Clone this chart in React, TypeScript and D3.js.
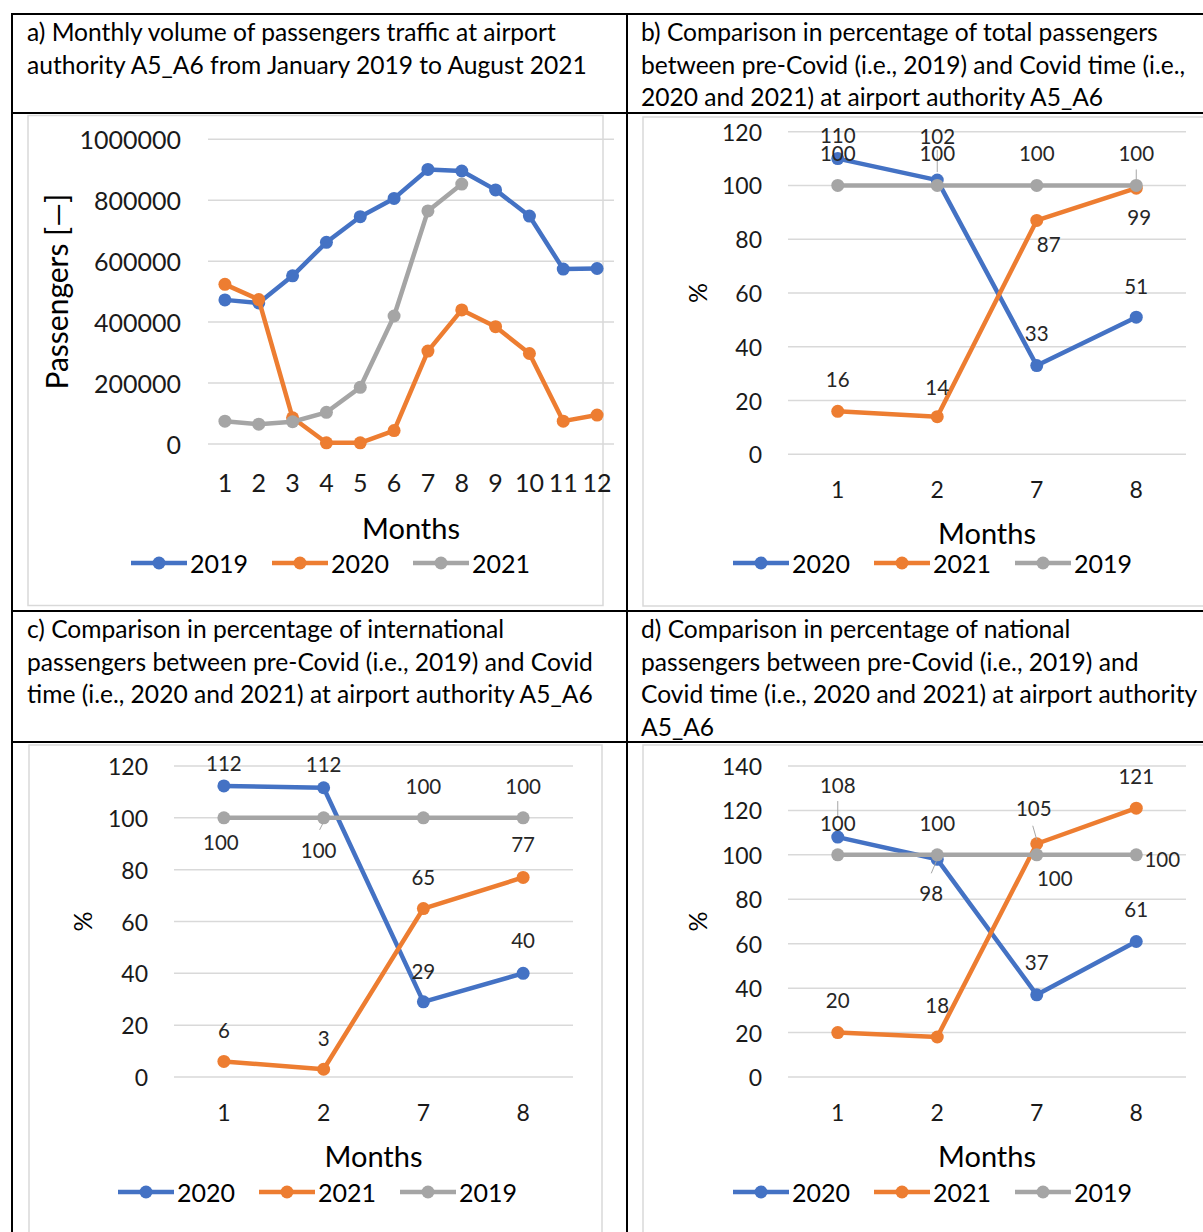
import React from "react";
import * as d3 from "d3";

// ---------- DATA ----------
const monthsAll = ["1", "2", "3", "4", "5", "6", "7", "8", "9", "10", "11", "12"];
const pax2019 = [473000, 463000, 552000, 662000, 746000, 806000, 901000, 896000, 834000, 748000, 574000, 576000];
const pax2020 = [524000, 474000, 86000, 4000, 4000, 44000, 305000, 440000, 385000, 297000, 75000, 95000];
const pax2021 = [75000, 65000, 73000, 104000, 186000, 420000, 765000, 853000];
const paxTicks = [0, 200000, 400000, 600000, 800000, 1000000];

const monthsCmp = ["1", "2", "7", "8"];
const total2020 = [110, 102, 33, 51];
const total2021 = [16, 14, 87, 99];
const total2019 = [100, 100, 100, 100];
const intl2020 = [112.3, 111.6, 29, 40];
const intl2021 = [6, 3, 65, 77];
const intl2019 = [100, 100, 100, 100];
const nat2020 = [108, 98, 37, 61];
const nat2021 = [20, 18, 105, 121];
const nat2019 = [100, 100, 100, 100];
const pctTicks120 = [0, 20, 40, 60, 80, 100, 120];
const pctTicks140 = [0, 20, 40, 60, 80, 100, 120, 140];

const headerA = ["a) Monthly volume of passengers traffic at airport", "authority A5_A6 from January 2019 to August 2021"];
const headerB = ["b) Comparison in percentage of total passengers", "between pre-Covid (i.e., 2019) and Covid time (i.e.,", "2020 and 2021) at airport authority A5_A6"];
const headerC = ["c) Comparison in percentage of international", "passengers between pre-Covid (i.e., 2019) and Covid", "time (i.e., 2020 and 2021) at airport authority A5_A6"];
const headerD = ["d) Comparison in percentage of national", "passengers between pre-Covid (i.e., 2019) and", "Covid time (i.e., 2020 and 2021) at airport authority", "A5_A6"];

// ---------- STYLE ----------
const FONT = "Lato, 'Open Sans', sans-serif";
const BLUE = "#4472C4";
const ORANGE = "#ED7D31";
const GRAY = "#A5A5A5";
const GRID = "#D9D9D9";

type Series = {
  name: string;
  color: string;
  values: number[];
  labels?: [number, number][]; // label offsets (dx, dy) from point
  leaders?: ([number, number, number, number] | null)[]; // leader line offsets
};

type ChartProps = {
  xRange: [number, number];
  yRange: [number, number];
  yDomain: [number, number];
  yTicks: number[];
  categories: string[];
  series: Series[];
  legendOrder: number[];
  tickFont: number;
  xLabelY: number;
  yLabelRight: number;
  yTitle: string;
  yTitleX: number;
  yTitleFont: number;
  monthsY: number;
  legendY: number;
  legendX: number;
};

function LineChart(p: ChartProps) {
  const x = d3.scalePoint<string>().domain(p.categories).range(p.xRange).padding(0.5);
  const y = d3.scaleLinear().domain(p.yDomain).range(p.yRange);
  const line = d3
    .line<number>()
    .x((_, i) => x(p.categories[i]) as number)
    .y((d) => y(d));
  const fmt = d3.format(".0f");
  const cx = (p.xRange[0] + p.xRange[1]) / 2;
  const cy = (p.yRange[0] + p.yRange[1]) / 2;
  return (
    <g>
      {p.yTicks.map((t) => (
        <g key={"g" + t}>
          <line x1={p.xRange[0]} x2={p.xRange[1]} y1={y(t)} y2={y(t)} stroke={GRID} strokeWidth={1.5} />
          <text x={p.yLabelRight} y={y(t)} textAnchor="end" dominantBaseline="central" fontSize={p.tickFont} fill="#1a1a1a">
            {t}
          </text>
        </g>
      ))}
      {p.categories.map((c) => (
        <text key={"x" + c} x={x(c)} y={p.xLabelY} textAnchor="middle" dominantBaseline="central" fontSize={p.tickFont} fill="#1a1a1a">
          {c}
        </text>
      ))}
      {p.series.map((s) => (
        <g key={s.name}>
          <path d={line(s.values) || ""} fill="none" stroke={s.color} strokeWidth={4.5} strokeLinejoin="round" strokeLinecap="round" />
          {s.values.map((v, i) => (
            <circle key={i} cx={x(p.categories[i])} cy={y(v)} r={6.5} fill={s.color} />
          ))}
        </g>
      ))}
      {p.series.map((s) =>
        s.labels
          ? s.values.map((v, i) => {
              const px = x(p.categories[i]) as number;
              const py = y(v);
              const [dx, dy] = s.labels![i];
              const ld = s.leaders ? s.leaders[i] : null;
              return (
                <g key={s.name + "l" + i}>
                  {ld && <line x1={px + ld[0]} y1={py + ld[1]} x2={px + ld[2]} y2={py + ld[3]} stroke="#A6A6A6" strokeWidth={1} />}
                  <text x={px + dx} y={py + dy} textAnchor="middle" dominantBaseline="central" fontSize={20.5} fill="#262626">
                    {fmt(v)}
                  </text>
                </g>
              );
            })
          : null
      )}
      <text x={cx} y={p.monthsY} textAnchor="middle" dominantBaseline="central" fontSize={29} fill="#000">
        Months
      </text>
      <text
        transform={`translate(${p.yTitleX},${cy}) rotate(-90)`}
        textAnchor="middle"
        dominantBaseline="central"
        fontSize={p.yTitleFont}
        fill="#000"
      >
        {p.yTitle}
      </text>
      {p.legendOrder.map((si, k) => {
        const s = p.series[si];
        const lx = p.legendX + k * 141;
        return (
          <g key={"lg" + k}>
            <line x1={lx} x2={lx + 56} y1={p.legendY} y2={p.legendY} stroke={s.color} strokeWidth={4.5} />
            <circle cx={lx + 28} cy={p.legendY} r={6.5} fill={s.color} />
            <text x={lx + 59} y={p.legendY} dominantBaseline="central" fontSize={25} fill="#000">
              {s.name}
            </text>
          </g>
        );
      })}
    </g>
  );
}

function Header({ lines, x, y }: { lines: string[]; x: number; y: number }) {
  return (
    <g>
      {lines.map((l, i) => (
        <text key={i} x={x} y={y + i * 32.5} fontSize={24.6} fill="#000">
          {l}
        </text>
      ))}
    </g>
  );
}

export default function App() {
  const W = 1203;
  const H = 1232;
  return (
    <svg
      width={W}
      height={H}
      style={{ position: "absolute", left: 0, top: 0, background: "#fff" }}
      fontFamily={FONT}
    >
      <rect x={0} y={0} width={W} height={H} fill="#fff" />
      {/* chart frames */}
      <rect x={28} y={115.5} width={575} height={490} fill="#fff" stroke={GRID} strokeWidth={1.5} />
      <rect x={643} y={117} width={600} height={489} fill="#fff" stroke={GRID} strokeWidth={1.5} />
      <rect x={29} y={745} width={573} height={520} fill="#fff" stroke={GRID} strokeWidth={1.5} />
      <rect x={643} y={745} width={600} height={520} fill="#fff" stroke={GRID} strokeWidth={1.5} />

      {/* table borders */}
      <g stroke="#000" strokeWidth={2}>
        <line x1={11} x2={W} y1={14} y2={14} />
        <line x1={11} x2={W} y1={113} y2={113} />
        <line x1={11} x2={W} y1={611} y2={611} />
        <line x1={11} x2={W} y1={742} y2={742} />
        <line x1={12} x2={12} y1={13} y2={H} />
        <line x1={627} x2={627} y1={13} y2={H} />
      </g>

      <Header lines={headerA} x={27} y={41} />
      <Header lines={headerB} x={641} y={41} />
      <Header lines={headerC} x={27} y={638} />
      <Header lines={headerD} x={641} y={638} />

      {/* a) */}
      <LineChart
        xRange={[208, 614]}
        yRange={[444, 139.3]}
        yDomain={[0, 1000000]}
        yTicks={paxTicks}
        categories={monthsAll}
        series={[
          { name: "2019", color: BLUE, values: pax2019 },
          { name: "2020", color: ORANGE, values: pax2020 },
          { name: "2021", color: GRAY, values: pax2021 },
        ]}
        legendOrder={[0, 1, 2]}
        tickFont={25}
        xLabelY={482}
        yLabelRight={181}
        yTitle="Passengers [—]"
        yTitleX={56}
        yTitleFont={30}
        monthsY={527}
        legendY={563}
        legendX={131}
      />

      {/* b) */}
      <LineChart
        xRange={[788, 1186]}
        yRange={[454.3, 131.7]}
        yDomain={[0, 120]}
        yTicks={pctTicks120}
        categories={monthsCmp}
        series={[
          {
            name: "2020",
            color: BLUE,
            values: total2020,
            labels: [[0, -24], [0, -44], [0, -33], [0, -31]],
            leaders: [null, [0, -30, 0, -8], null, null],
          },
          {
            name: "2021",
            color: ORANGE,
            values: total2021,
            labels: [[0, -32], [0, -30], [12, 24], [3, 29]],
          },
          {
            name: "2019",
            color: GRAY,
            values: total2019,
            labels: [[0, -32], [0, -32], [0, -32], [0, -32]],
            leaders: [null, null, null, [0, -16, 0, -6]],
          },
        ]}
        legendOrder={[0, 1, 2]}
        tickFont={23}
        xLabelY={489}
        yLabelRight={762}
        yTitle="%"
        yTitleX={697}
        yTitleFont={25}
        monthsY={532}
        legendY={563}
        legendX={733}
      />

      {/* c) */}
      <LineChart
        xRange={[174, 573]}
        yRange={[1077, 766]}
        yDomain={[0, 120]}
        yTicks={pctTicks120}
        categories={monthsCmp}
        series={[
          {
            name: "2020",
            color: BLUE,
            values: intl2020,
            labels: [[0, -23], [0, -24], [0, -31], [0, -33]],
          },
          {
            name: "2021",
            color: ORANGE,
            values: intl2021,
            labels: [[0, -31], [0, -31], [0, -32], [0, -33]],
          },
          {
            name: "2019",
            color: GRAY,
            values: intl2019,
            labels: [[-3, 24], [-5, 32], [0, -32], [0, -32]],
            leaders: [null, [-1, 6, -4, 12], null, null],
          },
        ]}
        legendOrder={[0, 1, 2]}
        tickFont={23}
        xLabelY={1112}
        yLabelRight={148}
        yTitle="%"
        yTitleX={82}
        yTitleFont={25}
        monthsY={1155}
        legendY={1192}
        legendX={118}
      />

      {/* d) */}
      <LineChart
        xRange={[788, 1186]}
        yRange={[1077, 766]}
        yDomain={[0, 140]}
        yTicks={pctTicks140}
        categories={monthsCmp}
        series={[
          {
            name: "2020",
            color: BLUE,
            values: nat2020,
            labels: [[0, -52], [-6, 34], [0, -33], [0, -32]],
            leaders: [[0, -36, 0, -20], [-1, 2, -6, 14], null, null],
          },
          {
            name: "2021",
            color: ORANGE,
            values: nat2021,
            labels: [[0, -33], [0, -32], [-3, -36], [0, -32]],
            leaders: [null, null, [-4, -18, 0, -4], null],
          },
          {
            name: "2019",
            color: GRAY,
            values: nat2019,
            labels: [[0, -32], [0, -32], [18, 23], [26, 4]],
          },
        ]}
        legendOrder={[0, 1, 2]}
        tickFont={23}
        xLabelY={1112}
        yLabelRight={762}
        yTitle="%"
        yTitleX={697}
        yTitleFont={25}
        monthsY={1155}
        legendY={1192}
        legendX={733}
      />
    </svg>
  );
}
